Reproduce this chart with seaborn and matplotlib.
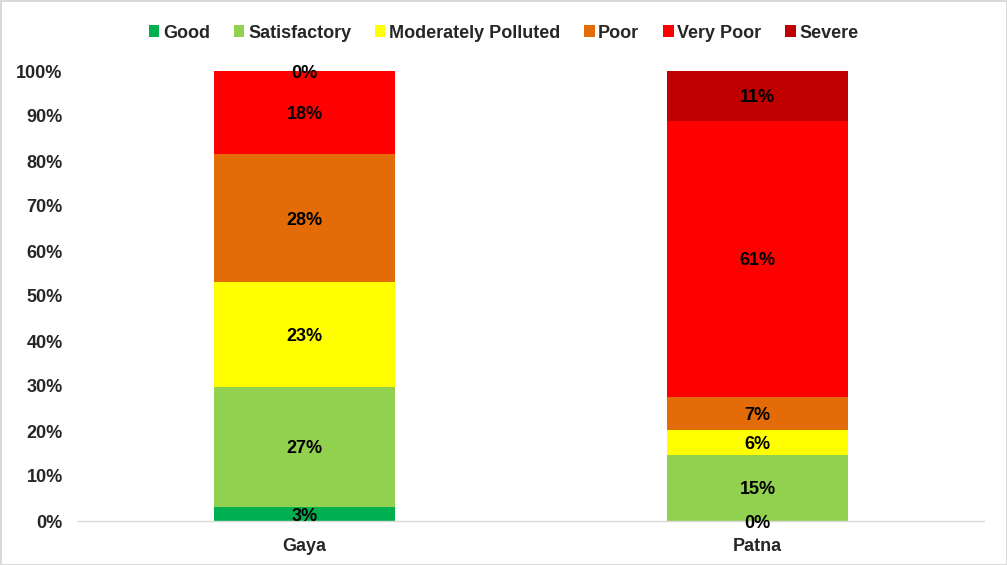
import numpy as np
import pandas as pd
import matplotlib
matplotlib.use("Agg")
import matplotlib.pyplot as plt
from matplotlib.patches import Patch
import seaborn as sns

cities = ["Gaya", "Patna"]
categories = ["Good", "Satisfactory", "Moderately Polluted", "Poor", "Very Poor", "Severe"]
good = [3.1, 0.0]
satisfactory = [26.7, 14.7]
moderate = [23.3, 5.5]
poor = [28.4, 7.4]
very_poor = [18.5, 61.3]
severe = [0.0, 11.1]
colors = ["#00B050", "#92D050", "#FFFF00", "#E36C09", "#FF0000", "#C00000"]
yticks = list(range(0, 101, 10))

sns.set_theme(style="white")
plt.rcParams["font.family"] = ["Liberation Sans", "DejaVu Sans"]

series = [good, satisfactory, moderate, poor, very_poor, severe]
df = pd.DataFrame({"city": np.repeat(cities, len(categories)),
                   "category": categories * len(cities),
                   "value": [series[j][i] for i in range(len(cities)) for j in range(len(categories))]})
df["cum"] = df.groupby("city")["value"].cumsum()

fig = plt.figure(figsize=(10.07, 5.65), dpi=100, edgecolor="#d9d9d9", linewidth=2)
ax = fig.add_axes([78/1007, 1-521/565, (984-78)/1007, 450/565])

for cat, col in reversed(list(zip(categories, colors))):
    sub = df[df["category"] == cat]
    sns.barplot(data=sub, x="city", y="cum", order=cities, color=col, saturation=1,
                width=0.4, linewidth=0, ax=ax, errorbar=None)

for _, r in df.iterrows():
    xi = cities.index(r["city"])
    ax.text(xi, r["cum"] - r["value"]/2, f"{r['value']:.0f}%", ha="center", va="center_baseline",
            fontsize=13, fontweight="bold", color="black")

ax.set_xlim(-0.5, 1.5)
ax.set_ylim(0, 100)
ax.set_yticks(yticks)
ax.set_yticklabels([f"{t}%" for t in yticks], fontsize=13, fontweight="bold")
ax.set_xticks(range(len(cities)))
ax.set_xticklabels(cities, fontsize=13, fontweight="bold")
ax.tick_params(axis="x", length=0, pad=12)
ax.tick_params(axis="y", length=0, pad=11)
ax.set_xlabel("")
ax.set_ylabel("")
for s in ["top", "right", "left"]:
    ax.spines[s].set_visible(False)
ax.spines["bottom"].set_color("#d9d9d9")
ax.spines["bottom"].set_linewidth(1)

handles = [Patch(facecolor=c, edgecolor="none", label=l) for l, c in zip(categories, colors)]
fig.legend(handles=handles, loc="center", bbox_to_anchor=(0.5, 1-33/565), ncol=6, frameon=False,
           prop={"size": 13, "weight": "bold"}, handlelength=0.6, handleheight=0.6,
           handletextpad=0.2, columnspacing=1.3)

fig.savefig("out.png", dpi=100)
